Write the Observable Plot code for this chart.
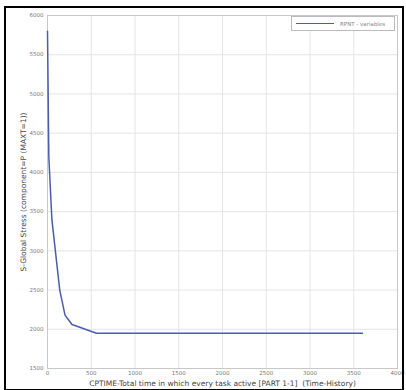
<!DOCTYPE html>
<html>
<head>
<meta charset="utf-8">
<script src="https://cdn.jsdelivr.net/npm/d3@7"></script>
<script src="https://cdn.jsdelivr.net/npm/@observablehq/plot@0.6"></script>
<style>
  html, body { margin: 0; padding: 0; background: #fff; overflow: hidden; }
  #wrap { position: relative; width: 406px; height: 390px; overflow: hidden; }
  #border { position: absolute; left: 4px; top: 6px; width: 396px; height: 381px; border: 2px solid #000; pointer-events: none; }
  #legend { position: absolute; left: 291px; top: 16px; width: 102px; height: 13px; border: 1px solid #bbb; background: #fff;
            font: 5.5px "DejaVu Sans", sans-serif; color: #888; display: flex; align-items: center; box-sizing: content-box; }
  #legend .sw { width: 38px; height: 0; border-top: 1.5px solid #4a5ea8; margin: 0 6px 0 4px; }
</style>
</head>
<body>
<div id="wrap">
  <div id="chart"></div>
  <div id="legend"><div class="sw"></div><span id="legtext"></span></div>
  <div id="border"></div>
</div>
<script>
const times  = [0, 15, 50, 90, 140, 200, 280, 560, 3600];
const stress = [5800, 4200, 3400, 3000, 2500, 2180, 2060, 1950, 1950];
const xTicks = [0, 500, 1000, 1500, 2000, 2500, 3000, 3500, 4000];
const yTicks = [1500, 2000, 2500, 3000, 3500, 4000, 4500, 5000, 5500, 6000];
const seriesName = "RPNT - variables";
const xLabel = "CPTIME-Total time in which every task active [PART 1-1]  (Time-History)";
const yLabel = "S-Global Stress (component=P (MAXT=1))";

const data = times.map((t, i) => ({t, s: stress[i]}));
document.getElementById("legtext").textContent = seriesName;

const chart = Plot.plot({
  width: 406,
  height: 390,
  marginLeft: 47,
  marginRight: 9,
  marginTop: 15,
  marginBottom: 22,
  style: {fontFamily: "DejaVu Sans, sans-serif", fontSize: "5.5px", color: "#777", background: "#fff"},
  x: {domain: [0, 4000], ticks: xTicks, tickFormat: d => String(d)},
  y: {domain: [1500, 6000], ticks: yTicks, tickFormat: d => String(d)},
  marks: [
    Plot.gridX(xTicks, {stroke: "#e4e4e4", strokeOpacity: 1}),
    Plot.gridY(yTicks, {stroke: "#e4e4e4", strokeOpacity: 1}),
    Plot.frame({stroke: "#c8c8c8"}),
    Plot.axisX(xTicks, {tickSize: 0, tickPadding: 3, label: null, tickFormat: d => String(d)}),
    Plot.axisY(yTicks, {tickSize: 0, tickPadding: 4, label: null, tickFormat: d => String(d)}),
    Plot.axisX({ticks: [], label: xLabel, labelArrow: "none", labelAnchor: "center", labelOffset: 17, fontSize: 7.5, color: "#444"}),
    Plot.axisY({ticks: [], label: yLabel, labelArrow: "none", labelAnchor: "center", labelOffset: 27, fontSize: 7.5, color: "#444"}),
    Plot.line(data, {x: "t", y: "s", stroke: "#4a5ea8", strokeWidth: 1.5})
  ]
});
document.getElementById("chart").appendChild(chart);
</script>
</body>
</html>
